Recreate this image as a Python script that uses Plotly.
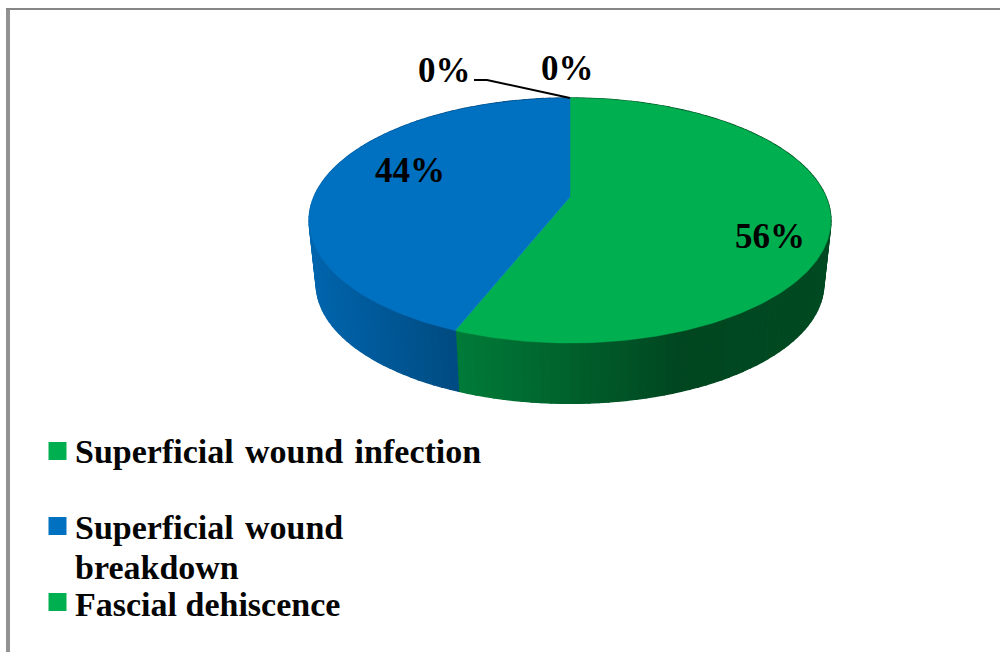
import numpy as np
import plotly.graph_objects as go

# ---- data ----
categories = ["Superficial wound infection", "Superficial wound breakdown", "Fascial dehiscence", ""]
values = [56, 44, 0, 0]
value_labels = ["56%", "44%", "0%", "0%"]
slice_colors = ["#00B050", "#0070C0", "#00B050", "#0070C0"]

# ---- label placement (page pixels) ----
label_x = [770, 410, 567, 444]
label_y = [236, 170, 68, 70]
legend_lines = ["Superficial\u200a wound\u200a infection", "Superficial\u200a wound", "breakdown", "Fascial dehiscence"]
legend_text_y = [451, 527, 567, 604]
legend_mark_y = [451, 526, 602]
LEGEND_COLORS = slice_colors[:3]
SERIF = "Liberation Serif"

# ---- perspective pie geometry ----
X0, TOP_Y0, BOT_Y0 = 570.0, 197.0, 261.0
TOP_A, TOP_B = 118.0, 256.0
BOT_A, BOT_B = 115.0, 249.0
K = 0.192


def project(theta, y0, a, b):
    u, v = np.sin(theta), np.cos(theta)
    d = 1 + K * v
    return X0 + b * u / d, y0 - a * v / d


def shade(hex_color, f):
    r, g, b = (int(hex_color[i:i + 2], 16) for i in (1, 3, 5))
    return f"rgb({r * f:.0f},{g * f:.0f},{b * f:.0f})"


SHADE_X = [310, 455, 456, 680, 830]
SHADE_F = [0.90, 0.67, 0.70, 0.40, 0.42]

fig = go.Figure()
total = sum(values)
edges = np.concatenate([[0], np.cumsum(values)]) / total * 2 * np.pi

# side wall, as narrow strips so the shading runs across it
for i, name in enumerate(categories):
    if values[i] == 0:
        continue
    n = max(2, int(values[i] * 2))
    ts = np.linspace(edges[i], edges[i + 1], n + 1)
    for t0, t1 in zip(ts[:-1], ts[1:]):
        tt = np.linspace(t0, t1, 4)
        xt, yt = project(tt, TOP_Y0, TOP_A, TOP_B)
        xb, yb = project(tt[::-1], BOT_Y0, BOT_A, BOT_B)
        f = float(np.interp(xt.mean(), SHADE_X, SHADE_F))
        c = shade(slice_colors[i], f)
        fig.add_trace(go.Scatter(
            x=np.r_[xt, xb, xt[0]], y=np.r_[yt, yb, yt[0]], mode="lines", fill="toself",
            fillcolor=c, line=dict(color=c, width=1.5), hoverinfo="skip", showlegend=False))

# top face
for i, name in enumerate(categories):
    if values[i] == 0:
        continue
    tt = np.linspace(edges[i], edges[i + 1], 240)
    xt, yt = project(tt, TOP_Y0, TOP_A, TOP_B)
    fig.add_trace(go.Scatter(
        x=np.r_[X0, xt, X0], y=np.r_[TOP_Y0, yt, TOP_Y0], mode="lines", fill="toself",
        fillcolor=slice_colors[i], line=dict(color=slice_colors[i], width=0.5),
        name=name, text=value_labels[i], hoverinfo="name+text", showlegend=False))

# leader line of the zero-value slice
fig.add_trace(go.Scatter(
    x=[474, 487, 570], y=[80, 80, 98], mode="lines",
    line=dict(color="black", width=2), hoverinfo="skip", showlegend=False))

# legend swatches
fig.add_trace(go.Scatter(
    x=[57.5] * 3, y=legend_mark_y, mode="markers",
    marker=dict(symbol="square", size=18, color=LEGEND_COLORS, line=dict(width=0)),
    hoverinfo="skip", showlegend=False))

for x, y, t in zip(label_x, label_y, value_labels):
    fig.add_annotation(x=x, y=y, text=t, showarrow=False, xanchor="center", yanchor="middle",
                       font=dict(family=SERIF, size=35, color="black", weight="bold"))
for y, t in zip(legend_text_y, legend_lines):
    fig.add_annotation(x=73, y=y, text=t, showarrow=False, xanchor="left", yanchor="middle", align="left",
                       font=dict(family=SERIF, size=34, color="#050505", weight="bold"))

# outer frame
fig.add_shape(type="line", x0=8, x1=8, y0=8, y1=652, line=dict(color="#929292", width=4))
fig.add_shape(type="line", x0=6, x1=1000, y0=9, y1=9, line=dict(color="#878787", width=2))

fig.update_layout(
    width=1000, height=652, margin=dict(l=0, r=0, t=0, b=0), showlegend=False,
    paper_bgcolor="white", plot_bgcolor="white",
    xaxis=dict(range=[0, 1000], visible=False, fixedrange=True),
    yaxis=dict(range=[652, 0], visible=False, fixedrange=True),
)
fig.write_html("out.html", config={"displayModeBar": False},
               post_script="document.body.style.margin='0';document.body.style.overflow='hidden';")
